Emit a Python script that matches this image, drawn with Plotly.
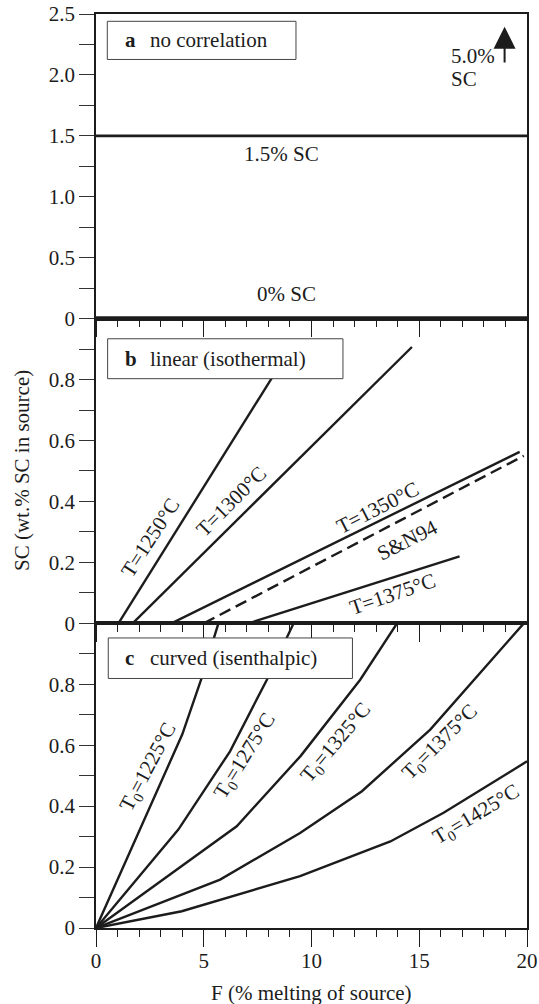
import plotly.graph_objects as go
from plotly.subplots import make_subplots

INK = "#1c1c1c"
FONT = "Liberation Serif"
FS = 21

# ---------------- data ----------------
F_RANGE = [0, 20]

# panel a: no correlation
a_F = [0, 20]
a_sc_15 = [1.5, 1.5]
a_sc_0 = [0, 0]

# panel b: linear (isothermal)
b_T1250_F = [1.04, 8.2]
b_T1250_SC = [0.0, 0.81]
b_T1300_F = [1.70, 14.66]
b_T1300_SC = [0.0, 0.907]
b_T1350_F = [3.50, 19.66]
b_T1350_SC = [0.0, 0.563]
b_SN94_F = [5.00, 19.85]
b_SN94_SC = [0.0, 0.55]
b_T1375_F = [7.07, 16.87]
b_T1375_SC = [0.0, 0.22]

# panel c: curved (isenthalpic)
c_T1225_F = [0, 4.0, 4.9, 5.68]
c_T1225_SC = [0, 0.635, 0.82, 1.0]
c_T1275_F = [0, 3.82, 6.22, 7.93, 9.17]
c_T1275_SC = [0, 0.323, 0.58, 0.815, 1.0]
c_T1325_F = [0, 6.53, 9.5, 12.26, 13.97]
c_T1325_SC = [0, 0.334, 0.565, 0.815, 1.0]
c_T1375_F = [0, 5.76, 9.47, 12.34, 15.51, 19.85]
c_T1375_SC = [0, 0.159, 0.312, 0.449, 0.651, 1.0]
c_T1425_F = [0, 3.98, 9.47, 13.66, 16.13, 20.0]
c_T1425_SC = [0, 0.055, 0.17, 0.284, 0.378, 0.547]

# tick labels
x_tickvals = [0, 5, 10, 15, 20]
x_ticktext = ["0", "5", "10", "15", "20"]
a_tickvals = [0, 0.5, 1.0, 1.5, 2.0, 2.5]
a_ticktext = ["0", "0.5", "1.0", "1.5", "2.0", "2.5"]
a_minor = [0.25, 0.75, 1.25, 1.75, 2.25]
bc_tickvals = [0, 0.2, 0.4, 0.6, 0.8]
bc_ticktext = ["0", "0.2", "0.4", "0.6", "0.8"]
bc_minor = [0.1, 0.3, 0.5, 0.7, 0.9]

# labels: (text, F, SC, angle)
a_labels = [("1.5% SC", 8.62, 1.35, 0), ("0% SC", 8.82, 0.203, 0)]
b_labels = [
    ("T=1250°C", 2.51, 0.28, -57),
    ("T=1300°C", 6.30, 0.40, -45),
    ("T=1350°C", 13.04, 0.38, -27),
    ("S&N94", 14.46, 0.273, -27),
    ("T=1375°C", 13.76, 0.096, -19),
]
c_labels = [
    ("T<sub>0</sub>=1225°C", 2.43, 0.529, -62),
    ("T<sub>0</sub>=1275°C", 6.92, 0.564, -58),
    ("T<sub>0</sub>=1325°C", 11.13, 0.607, -50),
    ("T<sub>0</sub>=1375°C", 15.98, 0.61, -45),
    ("T<sub>0</sub>=1425°C", 17.63, 0.372, -31),
]
# panel title boxes: (letter, text, x0, x1, y0, y1)
boxes = [
    ("a", "no correlation", 0.525, 9.28, 2.127, 2.44),
    ("b", "linear (isothermal)", 0.54, 11.46, 0.803, 0.934),
    ("c", "curved (isenthalpic)", 0.57, 11.9, 0.819, 0.952),
]
arrow_F = 18.96
arrow_tail_SC = 2.09
arrow_tip_SC = 2.395

# ---------------- figure ----------------
fig = make_subplots(rows=3, cols=1, shared_xaxes=True, vertical_spacing=0)


def line(xs, ys, row, width=2.4, dash="solid"):
    fig.add_trace(go.Scatter(x=xs, y=ys, mode="lines",
                             line=dict(color=INK, width=width, dash=dash),
                             showlegend=False, hoverinfo="skip"), row=row, col=1)


line(a_F, a_sc_15, 1, width=2.6)
line(a_F, a_sc_0, 1, width=5)

line(b_T1250_F, b_T1250_SC, 2)
line(b_T1300_F, b_T1300_SC, 2)
line(b_T1350_F, b_T1350_SC, 2)
line(b_SN94_F, b_SN94_SC, 2, dash="12px,6px")
line(b_T1375_F, b_T1375_SC, 2)

line(c_T1225_F, c_T1225_SC, 3)
line(c_T1275_F, c_T1275_SC, 3)
line(c_T1325_F, c_T1325_SC, 3)
line(c_T1375_F, c_T1375_SC, 3)
line(c_T1425_F, c_T1425_SC, 3)

tickfont = dict(family=FONT, size=FS, color=INK)
for r in (1, 2, 3):
    fig.update_xaxes(row=r, col=1, range=F_RANGE, showline=True, linecolor=INK,
                     linewidth=1.5, mirror=True, ticks="outside", ticklen=17,
                     tickwidth=1.3, tickcolor=INK, tickvals=x_tickvals,
                     ticktext=x_ticktext, showticklabels=(r == 3),
                     minor=dict(dtick=1, tick0=0, ticklen=7, ticks="outside",
                                tickcolor=INK, tickwidth=1.3),
                     showgrid=False, zeroline=False, tickfont=tickfont,
                     ticklabelstandoff=-4)

fig.update_yaxes(row=1, col=1, range=[0, 2.5], tickvals=a_tickvals, ticktext=a_ticktext,
                 minor=dict(tickvals=a_minor, ticklen=15, ticks="outside",
                            tickcolor="#333", tickwidth=1.3))
for r in (2, 3):
    fig.update_yaxes(row=r, col=1, range=[0, 1.0], tickvals=bc_tickvals,
                     ticktext=bc_ticktext,
                     minor=dict(tickvals=bc_minor, ticklen=15, ticks="outside",
                                tickcolor="#333", tickwidth=1.3))
fig.update_yaxes(showline=True, linecolor=INK, linewidth=1.5, mirror=True,
                 ticks="outside", ticklen=15, tickwidth=1.3, tickcolor="#333",
                 showgrid=False, zeroline=False, tickfont=tickfont)

annotations = []
shapes = []
axis_refs = {1: ("x", "y"), 2: ("x2", "y2"), 3: ("x3", "y3")}

for row, labels in ((1, a_labels), (2, b_labels), (3, c_labels)):
    xr, yr = axis_refs[row]
    for text, fx, sy, ang in labels:
        annotations.append(dict(text=text, x=fx, y=sy, xref=xr, yref=yr,
                                showarrow=False, textangle=ang,
                                xanchor="center", yanchor="middle",
                                font=dict(family=FONT, size=FS, color=INK)))

# 5.0% SC text and arrow (panel a)
annotations.append(dict(text="5.0%", x=16.4, y=2.155, xref="x", yref="y",
                        showarrow=False, xanchor="left", yanchor="middle",
                        font=dict(family=FONT, size=FS, color=INK)))
annotations.append(dict(text="SC", x=16.4, y=1.97, xref="x", yref="y",
                        showarrow=False, xanchor="left", yanchor="middle",
                        font=dict(family=FONT, size=FS, color=INK)))
annotations.append(dict(text="", x=arrow_F, y=arrow_tip_SC, ax=arrow_F, ay=arrow_tail_SC,
                        xref="x", yref="y", axref="x", ayref="y", showarrow=True,
                        arrowhead=2, arrowsize=2.2, arrowwidth=2, arrowcolor=INK))

for row, (letter, text, x0, x1, y0, y1) in zip((1, 2, 3), boxes):
    xr, yr = axis_refs[row]
    shapes.append(dict(type="rect", xref=xr, yref=yr, x0=x0, x1=x1, y0=y0, y1=y1,
                       line=dict(color="#444", width=1), fillcolor="white",
                       layer="above"))
    yc = (y0 + y1) / 2
    annotations.append(dict(text="<b>%s</b>" % letter, x=1.25, y=yc, xref=xr, yref=yr,
                            showarrow=False, xanchor="left", yanchor="middle",
                            font=dict(family=FONT, size=FS, color=INK)))
    annotations.append(dict(text=text, x=2.42, y=yc, xref=xr, yref=yr,
                            showarrow=False, xanchor="left", yanchor="middle",
                            font=dict(family=FONT, size=FS, color=INK)))

# axis titles
annotations.append(dict(text="F (% melting of source)", x=0.5, y=0, xref="paper",
                        yref="paper", yshift=-65, showarrow=False,
                        xanchor="center", yanchor="middle",
                        font=dict(family=FONT, size=FS, color=INK)))
annotations.append(dict(text="SC (wt.% SC in source)", x=0, y=0.5, xref="paper",
                        yref="paper", xshift=-74, showarrow=False, textangle=-90,
                        xanchor="center", yanchor="middle",
                        font=dict(family=FONT, size=FS, color=INK)))

fig.update_layout(width=539, height=1004,
                  margin=dict(l=96, r=12, t=14, b=76, autoexpand=False),
                  paper_bgcolor="white", plot_bgcolor="white",
                  annotations=annotations, shapes=shapes,
                  font=dict(family=FONT, size=FS, color=INK))

fig.write_html("out.html",
               config={"displayModeBar": False},
               post_script="document.body.style.margin='0';"
                           "document.body.style.overflow='hidden';")
